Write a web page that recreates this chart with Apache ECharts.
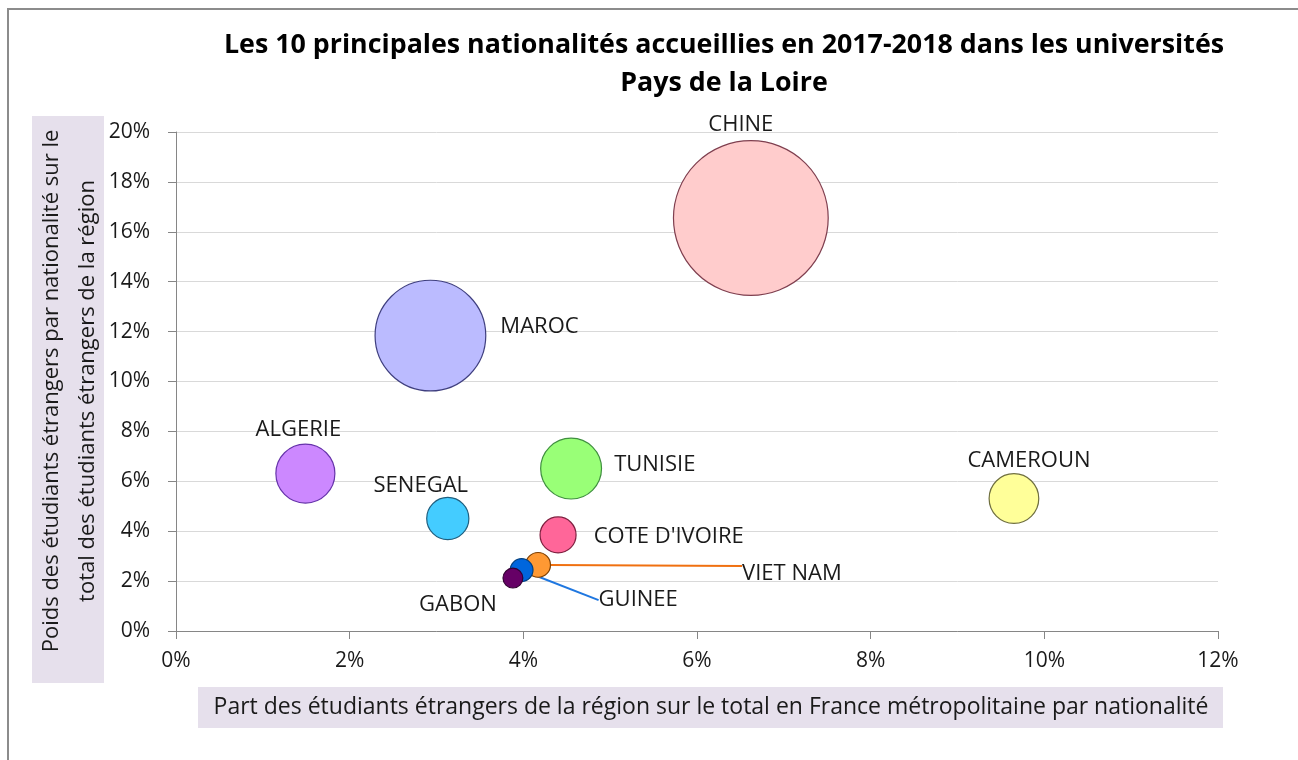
<!DOCTYPE html>
<html>
<head>
<meta charset="utf-8">
<script src="https://cdn.jsdelivr.net/npm/echarts@6/dist/echarts.min.js"></script>
<style>
  html, body { margin: 0; padding: 0; background: #fff; }
  #main { width: 1298px; height: 760px; }
</style>
</head>
<body>
<div id="main"></div>
<script>
// nationalités (ordre de tracé : les plus grosses bulles d'abord)
const pays = ['CHINE', 'MAROC', 'TUNISIE', 'ALGERIE', 'CAMEROUN', 'SENEGAL', "COTE D'IVOIRE", 'VIET NAM', 'GUINEE', 'GABON']
// part des étudiants de la région sur le total France métropolitaine (%)
const partFrance = [6.62, 2.93, 4.55, 1.49, 9.65, 3.13, 4.40, 4.17, 3.98, 3.88]
// poids de la nationalité dans le total des étudiants étrangers de la région (%)
const poidsRegion = [16.55, 11.84, 6.51, 6.31, 5.31, 4.51, 3.85, 2.65, 2.44, 2.12]
const xTicks = [0, 2, 4, 6, 8, 10, 12]
const yTicks = [0, 2, 4, 6, 8, 10, 12, 14, 16, 18, 20]

const fillColors = ['#FFCCCC', '#BBBBFF', '#99FF77', '#CC88FF', '#FFFF99', '#44CCFF', '#FF6699', '#FF9933', '#0066DD', '#660066']
const borderColors = ['#7F3F4F', '#3F3F7F', '#3F8F3F', '#6633AA', '#6F6F3F', '#1F5F7F', '#7F1F3F', '#7F3F00', '#003F7F', '#330033']

// placement des étiquettes (position, distance, déplacement dx/dy)
const labelPos = {
  'CHINE': { position: 'top', distance: 4, move: [-10, 0] },
  'MAROC': { position: 'right', distance: 14, move: [0, -9] },
  'TUNISIE': { position: 'right', distance: 12, move: [0, -4] },
  'ALGERIE': { position: 'top', distance: 3, move: [-7, 0] },
  'CAMEROUN': { position: 'top', distance: 1, move: [15, 0] },
  'SENEGAL': { position: 'top', distance: 0, move: [-27, 0] },
  "COTE D'IVOIRE": { position: 'right', distance: 17, move: [0, 2] },
  'VIET NAM': { position: 'right', distance: 5, move: [186, 1], line: '#F07010', lowered: true },
  'GUINEE': { position: 'right', distance: 5, move: [60, 30], line: '#1F77E0' },
  'GABON': { position: 'bottom', distance: 3, move: [-55, 2] }
}

const font = 'Open Sans'
const textColor = '#1A1A1A'

const seriesData = pays.map((name, i) => {
  const p = labelPos[name]
  const item = {
    name: name,
    value: [partFrance[i], poidsRegion[i]],
    itemStyle: { color: fillColors[i], borderColor: borderColors[i], borderWidth: 1.2, opacity: 1 },
    label: { position: p.position, distance: p.distance }
  }
  // texte sous le point d'attache du trait de rappel
  if (p.lowered) {
    item.label.formatter = '\n{b}'
    item.label.lineHeight = 15
  }
  if (p.line) {
    item.labelLine = { show: true, lineStyle: { color: p.line, width: 2 } }
  }
  return item
})

const myChart = echarts.init(document.getElementById('main'))
const option = {
  backgroundColor: '#fff',
  animation: false,
  grid: {
    left: 176,
    right: 80,
    top: 132,
    bottom: 129,
    containLabel: false
  },
  xAxis: {
    type: 'value',
    min: 0,
    max: 12,
    interval: 2,
    splitLine: { show: false },
    axisLine: { show: true, lineStyle: { color: '#868686', width: 1 } },
    axisTick: { show: true, length: 8, lineStyle: { color: '#868686' } },
    axisLabel: {
      margin: 20,
      fontFamily: font,
      fontSize: 21,
      color: textColor,
      formatter: v => xTicks.includes(v) ? v + '%' : ''
    }
  },
  yAxis: {
    type: 'value',
    min: 0,
    max: 20,
    interval: 2,
    splitLine: { show: true, lineStyle: { color: '#D9D9D9', width: 1 } },
    axisLine: { show: true, lineStyle: { color: '#868686', width: 1 } },
    axisTick: { show: true, length: 8, lineStyle: { color: '#868686' } },
    axisLabel: {
      margin: 26,
      fontFamily: font,
      fontSize: 21,
      color: textColor,
      formatter: v => yTicks.includes(v) ? v + '%' : ''
    }
  },
  graphic: [
    // cadre
    {
      type: 'rect',
      z: -10,
      shape: { x: 8, y: 9, width: 1300, height: 760 },
      style: { fill: 'none', stroke: '#8C8C8C', lineWidth: 2 }
    },
    // titre
    {
      type: 'text',
      x: 724,
      y: 64,
      style: {
        text: 'Les 10 principales nationalités accueillies en 2017-2018 dans les universités\nPays de la Loire',
        font: 'bold 26.8px "Open Sans"',
        fill: '#000',
        align: 'center',
        verticalAlign: 'middle',
        lineHeight: 38
      }
    },
    // titre axe Y
    {
      type: 'rect',
      shape: { x: 32, y: 116, width: 72, height: 567 },
      style: { fill: '#E6E0EC' }
    },
    {
      type: 'text',
      x: 70,
      y: 391,
      rotation: Math.PI / 2,
      style: {
        text: 'Poids des étudiants étrangers par nationalité sur le\ntotal des étudiants étrangers de la région',
        font: '22px "Open Sans"',
        fill: textColor,
        align: 'center',
        verticalAlign: 'middle',
        lineHeight: 36
      }
    },
    // titre axe X
    {
      type: 'rect',
      shape: { x: 198, y: 687, width: 1025, height: 41 },
      style: { fill: '#E6E0EC' }
    },
    {
      type: 'text',
      x: 711,
      y: 707,
      style: {
        text: 'Part des étudiants étrangers de la région sur le total en France métropolitaine par nationalité',
        font: '23px "Open Sans"',
        fill: textColor,
        align: 'center',
        verticalAlign: 'middle'
      }
    }
  ],
  series: [
    {
      type: 'scatter',
      data: seriesData,
      symbol: 'circle',
      symbolSize: val => val[1] * 9.35,
      label: {
        show: true,
        formatter: '{b}',
        fontFamily: font,
        fontSize: 22,
        color: textColor
      },
      labelLayout: params => {
        const p = labelPos[pays[params.dataIndex]]
        return { dx: p.move[0], dy: p.move[1] }
      },
      emphasis: { disabled: true }
    }
  ]
}
myChart.setOption(option)
</script>
</body>
</html>
